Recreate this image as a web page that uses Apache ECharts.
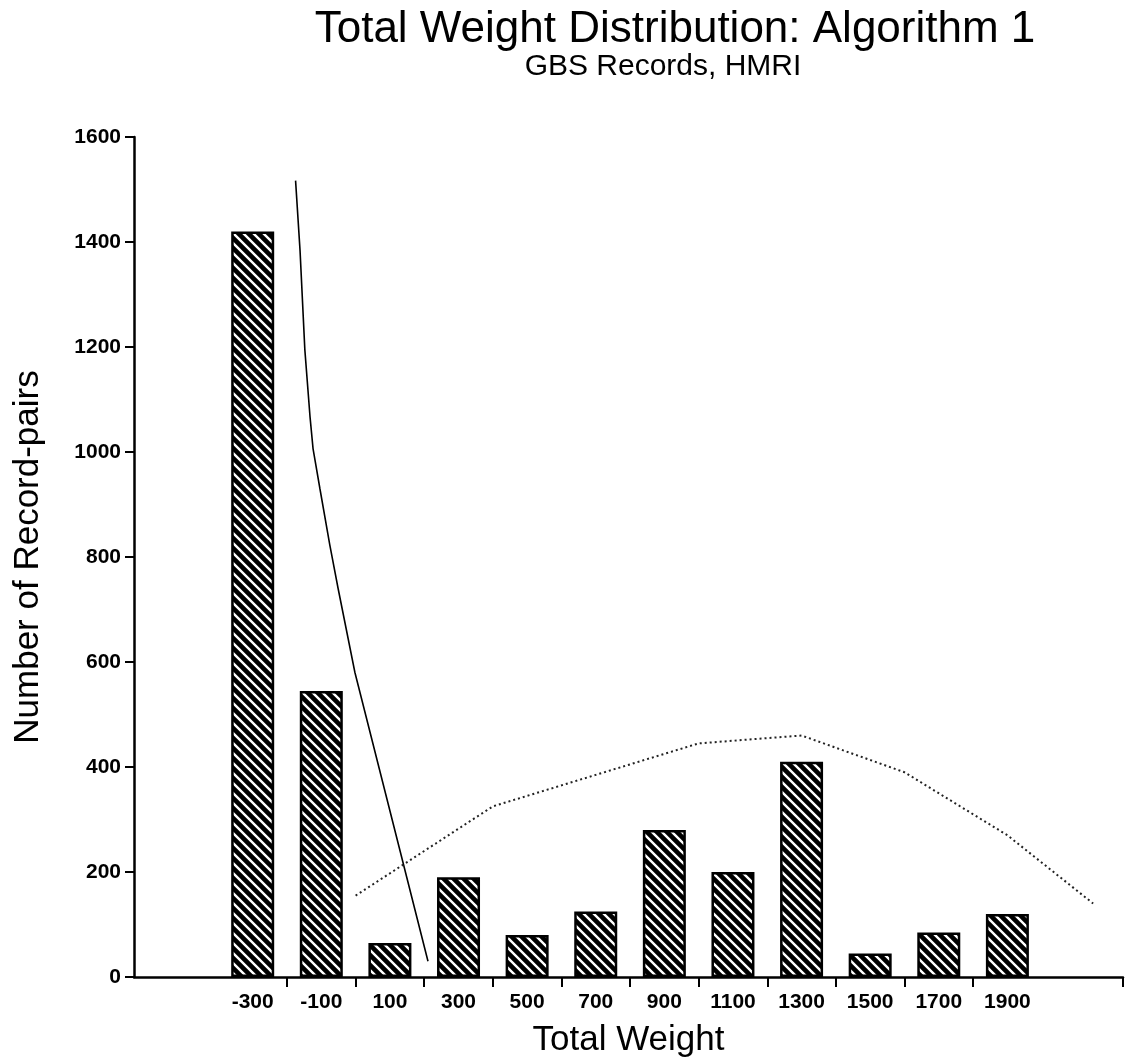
<!DOCTYPE html>
<html>
<head>
<meta charset="utf-8">
<script src="https://cdn.jsdelivr.net/npm/echarts@6/dist/echarts.min.js"></script>
<style>
  html, body { margin: 0; padding: 0; background: #fff; }
  #chart { width: 1130px; height: 1063px; }
</style>
</head>
<body>
<div id="chart"></div>
<script>
  // bins (centre of each weight class) and number of record-pairs
  var weights = [-300, -100, 100, 300, 500, 700, 900, 1100, 1300, 1500, 1700, 1900];
  var counts = [1420, 545, 65, 190, 80, 125, 280, 200, 410, 45, 85, 120];
  // bin edges that get a tick on the x axis
  var binEdges = [-200, 0, 200, 400, 600, 800, 1000, 1200, 1400, 1600, 1800];
  // steep solid curve (non-match distribution)
  var steepX = [-175, -162, -148, -133, -124, -104, -75, -51, -2, 211];
  var steepY = [1517, 1384, 1195, 1068, 1006, 930, 822, 740, 580, 30];
  // dotted curve (match distribution)
  var dotX = [0, 200, 400, 700, 1000, 1300, 1600, 1900, 2150];
  var dotY = [155, 240, 325, 385, 445, 460, 390, 270, 140];

  var xMin = -646, xMax = 2237;
  var font = 'Liberation Sans';

  // black bar with white "\" stripes
  function hatch() {
    var c = document.createElement('canvas');
    c.width = 10; c.height = 10;
    var g = c.getContext('2d');
    g.fillStyle = '#000';
    g.fillRect(0, 0, 10, 10);
    g.strokeStyle = '#fff';
    g.lineWidth = 2.4;
    g.beginPath();
    g.moveTo(-2, -2); g.lineTo(12, 12);
    g.moveTo(8, -2); g.lineTo(12, 2);
    g.moveTo(-2, 8); g.lineTo(2, 12);
    g.stroke();
    return c;
  }

  function pairs(xs, ys) {
    var out = [];
    for (var i = 0; i < xs.length; i++) out.push([xs[i], ys[i]]);
    return out;
  }

  var chart = echarts.init(document.getElementById('chart'), null, { renderer: 'canvas' });

  var option = {
    backgroundColor: '#fff',
    animation: false,
    textStyle: { fontFamily: font, color: '#000' },
    title: [
      {
        text: 'Total Weight Distribution: Algorithm 1',
        left: 670, top: 3, textAlign: 'center',
        textStyle: { fontFamily: font, fontSize: 44, fontWeight: 'normal', color: '#000' }
      },
      {
        text: 'GBS Records, HMRI',
        left: 658, top: 47, textAlign: 'center',
        textStyle: { fontFamily: font, fontSize: 30, fontWeight: 'normal', color: '#000' }
      }
    ],
    grid: { left: 134, right: 7, top: 137, bottom: 81, containLabel: false },
    xAxis: {
      type: 'value',
      min: xMin, max: xMax,
      name: 'Total Weight',
      nameLocation: 'middle',
      nameGap: 46,
      nameTextStyle: { fontFamily: font, fontSize: 35, color: '#000' },
      axisLine: { onZero: true, lineStyle: { color: '#000', width: 2.5 } },
      axisTick: { show: true, inside: false, length: 10, customValues: binEdges.concat([xMax]), lineStyle: { color: '#000', width: 2 } },
      axisLabel: {
        customValues: weights, margin: 15,
        fontFamily: font, fontSize: 21, fontWeight: 'bold', color: '#000',
        formatter: function (v) { return String(v); }
      },
      splitLine: { show: false }
    },
    yAxis: {
      type: 'value',
      min: 0, max: 1600, interval: 200,
      name: 'Number of Record-pairs',
      nameLocation: 'middle',
      nameRotate: 90,
      nameGap: 88,
      nameTextStyle: { fontFamily: font, fontSize: 35, color: '#000' },
      axisLine: { show: true, onZero: false, lineStyle: { color: '#000', width: 2.5 } },
      axisTick: { show: true, length: 9, lineStyle: { color: '#000', width: 2 } },
      axisLabel: {
        margin: 13, fontFamily: font, fontSize: 21, fontWeight: 'bold', color: '#000',
        formatter: function (v) { return String(v); }
      },
      splitLine: { show: false }
    },
    series: [
      {
        type: 'bar',
        data: pairs(weights, counts),
        barWidth: 43,
        itemStyle: {
          color: { image: hatch(), repeat: 'repeat' },
          borderColor: '#000',
          borderWidth: 2.5
        }
      },
      {
        type: 'line',
        data: pairs(steepX, steepY),
        symbol: 'none',
        lineStyle: { color: '#000', width: 1.6 }
      },
      {
        type: 'line',
        data: pairs(dotX, dotY),
        symbol: 'none',
        lineStyle: { color: '#222', width: 2, type: [2, 3] }
      }
    ]
  };

  chart.setOption(option);
</script>
</body>
</html>
